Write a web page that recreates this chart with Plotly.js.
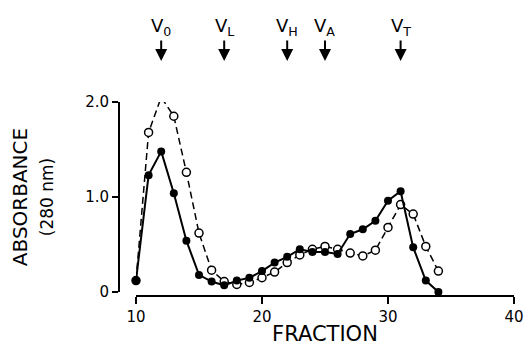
<!DOCTYPE html>
<html><head><meta charset="utf-8">
<script src="https://cdn.plot.ly/plotly-3.0.1.min.js"></script>
<style>body{margin:0;background:#fff}#c{width:526px;height:352px}</style>
</head><body><div id="c"></div>
<script>
const fractions = [10,11,12,13,14,15,16,17,18,19,20,21,22,23,24,25,26,27,28,29,30,31,32,33,34];
const filled = [0.12,1.23,1.48,1.04,0.54,0.18,0.11,0.07,0.12,0.15,0.22,0.31,0.37,0.45,0.42,0.42,0.40,0.61,0.66,0.75,0.96,1.06,0.47,0.12,0.0];
const open = [0.12,1.68,2.05,1.85,1.26,0.62,0.23,0.11,0.08,0.10,0.15,0.21,0.31,0.39,0.45,0.48,0.45,0.41,0.38,0.44,0.68,0.92,0.82,0.48,0.22];
const markerLabels = ["V<sub>0</sub>","V<sub>L</sub>","V<sub>H</sub>","V<sub>A</sub>","V<sub>T</sub>"];
const markerFractions = [12,17,22,25,31];

const font = "DejaVu Sans, sans-serif";
const traces = [
  {x: fractions, y: open, mode: "lines+markers", cliponaxis: false,
   line: {color: "#000", width: 1.5, dash: "7px,4px"},
   marker: {symbol: "circle", size: 8, color: "#fff", line: {color: "#000", width: 1.5}}},
  {x: fractions, y: filled, mode: "lines+markers", cliponaxis: false,
   line: {color: "#000", width: 2},
   marker: {symbol: "circle", size: 8, color: "#000"}}
];
const annotations = markerFractions.map((f, i) => ({
  x: f, xref: "x", y: 1.212, yref: "paper",
  text: markerLabels[i], showarrow: true, arrowhead: 2, arrowsize: 1.2, arrowwidth: 2,
  arrowcolor: "#000", ax: 0, ay: -34, font: {family: font, size: 18, color: "#000"}
}));
const layout = {
  width: 526, height: 352, showlegend: false,
  margin: {l: 118, r: 12, t: 102, b: 57},
  paper_bgcolor: "#fff", plot_bgcolor: "#fff",
  font: {family: font, color: "#000"},
  xaxis: {range: [10, 40], domain: [0.04545, 1], anchor: "free", position: 0,
    showgrid: false, zeroline: false, showline: true, linecolor: "#000", linewidth: 1.5,
    ticks: "outside", ticklen: 7, tickwidth: 1.5, tickcolor: "#000",
    tickvals: [10,20,30,40], ticktext: ["10","20","30","40"], tickfont: {size: 15},
    title: {text: "FRACTION", font: {size: 21}, standoff: 2}},
  yaxis: {range: [0, 2], domain: [0.01554, 1], anchor: "free", position: 0,
    showgrid: false, zeroline: false, showline: true, linecolor: "#000", linewidth: 1.5,
    ticks: "outside", ticklen: 6, tickwidth: 1.5, tickcolor: "#000",
    tickvals: [0,1,2], ticktext: ["0","1.0","2.0"], tickfont: {size: 15},
    title: {text: "ABSORBANCE<br><span style='font-size:17px'>(280 nm)</span>", font: {size: 20}, standoff: 24}},
  annotations: annotations
};
Plotly.newPlot("c", traces, layout, {staticPlot: true, displayModeBar: false});
</script></body></html>
